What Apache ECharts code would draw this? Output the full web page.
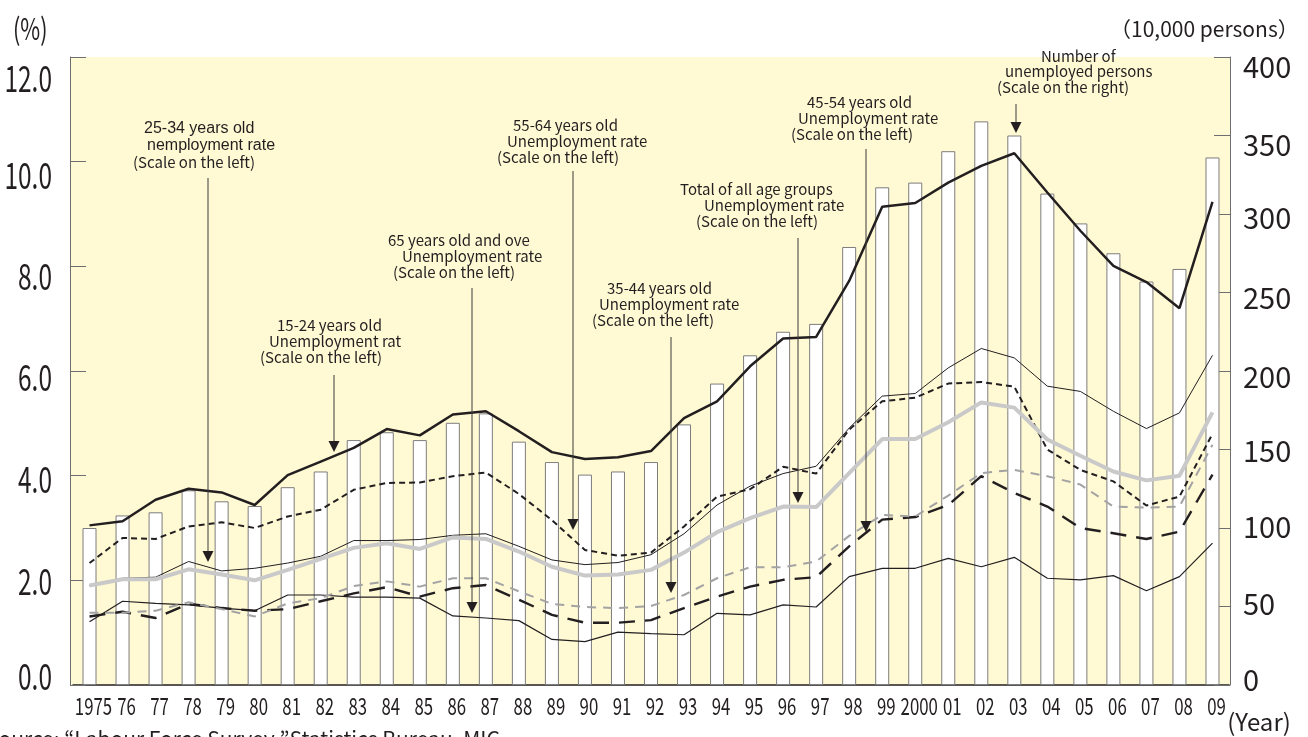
<!DOCTYPE html>
<html>
<head>
<meta charset="utf-8">
<script src="https://cdn.jsdelivr.net/npm/echarts@6/dist/echarts.min.js"></script>
<style>
  html, body { margin: 0; padding: 0; background: #fff; }
  #chart { width: 1308px; height: 737px; }
</style>
</head>
<body>
<div id="chart"></div>
<script>
// ---- data ----
const years = ['1975','76','77','78','79','80','81','82','83','84','85','86','87','88','89',
  '90','91','92','93','94','95','96','97','98','99','2000','01','02','03','04','05','06','07','08','09']

// number of unemployed persons, 10,000 persons (right scale)
const unemployed = [100,108,110,124,117,114,126,136,156,161,156,167,173,155,142,134,136,142,166,
  192,210,225,230,279,317,320,340,359,350,313,294,275,257,265,336]

// unemployment rates, % (left scale)
const rate15to24 = [3.05,3.13,3.54,3.75,3.68,3.44,4.01,4.27,4.53,4.89,4.77,5.17,5.23,4.85,4.45,4.32,4.35,4.47,5.10,
  5.42,6.09,6.62,6.65,7.72,9.14,9.21,9.60,9.92,10.16,9.41,8.68,8.01,7.70,7.20,9.23]
const rate25to34 = [1.90,2.04,2.06,2.36,2.18,2.23,2.33,2.46,2.76,2.76,2.78,2.86,2.89,2.65,2.39,2.30,2.34,2.49,2.89,
  3.44,3.80,4.04,4.18,4.91,5.52,5.57,6.06,6.43,6.25,5.71,5.61,5.23,4.90,5.20,6.30]
const rate35to44 = [1.38,1.38,1.42,1.58,1.45,1.31,1.56,1.66,1.89,1.98,1.88,2.04,2.04,1.79,1.55,1.49,1.47,1.51,1.72,
  2.04,2.25,2.25,2.36,2.85,3.25,3.22,3.62,4.05,4.11,3.99,3.83,3.41,3.39,3.41,4.59]
const rate45to54 = [1.31,1.40,1.28,1.55,1.47,1.42,1.45,1.60,1.75,1.87,1.69,1.85,1.91,1.63,1.34,1.19,1.19,1.24,1.47,
  1.69,1.88,2.01,2.06,2.65,3.16,3.21,3.44,3.99,3.67,3.41,3.00,2.90,2.79,2.93,4.02]
const rate55to64 = [2.33,2.81,2.79,3.03,3.11,3.00,3.22,3.35,3.73,3.86,3.87,3.99,4.06,3.65,3.15,2.58,2.47,2.53,3.03,
  3.60,3.74,4.17,4.04,4.88,5.42,5.49,5.76,5.79,5.70,4.50,4.11,3.89,3.43,3.60,4.80]
const rate65over = [1.21,1.60,1.56,1.53,1.47,1.42,1.72,1.72,1.68,1.68,1.66,1.32,1.28,1.23,0.87,0.83,1.01,0.98,0.96,
  1.37,1.34,1.53,1.49,2.07,2.23,2.23,2.42,2.26,2.44,2.04,2.01,2.09,1.80,2.07,2.71]
const rateTotal = [1.90,2.02,2.02,2.21,2.11,2.00,2.20,2.41,2.62,2.71,2.60,2.82,2.79,2.55,2.26,2.09,2.11,2.20,2.53,
  2.92,3.19,3.41,3.40,4.05,4.70,4.70,5.02,5.40,5.30,4.69,4.38,4.08,3.91,4.00,5.21]

const leftTicks = ['0.0','2.0','4.0','6.0','8.0','10.0','12.0']
const rightTicks = ['0','50','100','150','200','250','300','350','400']

// ---- style ----
const INK = '#231f20'
const MYRIAD = "'Noto Sans CJK JP', 'Open Sans', sans-serif"   // Source Sans latin ~ Myriad
const ARIAL = "'Liberation Sans', Arial, sans-serif"

// labels in the original sit a little off their ticks
const leftShift = [-9, 1, 4, 6, 10, 14, 21]
const rightShift = [-5, -3, -1, 1, 6, 5, 4, 9, 10]

// annotation boxes: lines of text [x, y, text], arrow [x, top, tip]
const notes = [
  { lines: [[144, 129, '25-34 years old', 'arial'], [147, 146, 'nemployment rate', 'arial'], [133, 162, '(Scale on the left)']], arrow: [208, 178, 562] },
  { lines: [[277, 325, '15-24 years old'], [269, 341, 'Unemployment rat'], [260, 357, '(Scale on the left)']], arrow: [334, 375, 452] },
  { lines: [[388, 240, '65 years old and ove'], [402, 256, 'Unemployment rate'], [393, 272, '(Scale on the left)']], arrow: [472, 288, 613] },
  { lines: [[513, 125, '55-64 years old'], [507, 141, 'Unemployment rate'], [497, 157, '(Scale on the left)']], arrow: [573, 171, 530] },
  { lines: [[607, 288, '35-44 years old'], [599, 304, 'Unemployment rate'], [592, 320, '(Scale on the left)']], arrow: [671, 337, 593] },
  { lines: [[680, 189, 'Total of all age groups'], [704, 205, 'Unemployment rate'], [696, 221, '(Scale on the left)']], arrow: [798, 238, 503] },
  { lines: [[807, 102, '45-54 years old'], [798, 118, 'Unemployment rate'], [791, 134, '(Scale on the left)']], arrow: [866, 149, 532] },
  { lines: [[1041, 56, 'Number of'], [1005, 71, 'unemployed persons'], [997, 87, '(Scale on the right)']], arrow: [1016, 104, 133] }
]

const graphics = [
  { type: 'rect', z: -10, silent: true, shape: { x: 70, y: 57, width: 1160, height: 628 }, style: { fill: '#fff9d4' } },
  { type: 'text', x: 13, y: 29, scaleX: 0.72, style: { text: '(%)', font: `30px ${MYRIAD}`, fill: INK, verticalAlign: 'middle' } },
  { type: 'text', x: 1110, y: 29, style: { text: '（10,000 persons）', font: `21px ${MYRIAD}`, fill: INK, verticalAlign: 'middle' } },
  { type: 'text', x: 1259, y: 722, style: { text: '(Year)', font: `24px ${MYRIAD}`, fill: INK, align: 'center', verticalAlign: 'middle' } },
  { type: 'text', x: -14, y: 739, style: { text: 'Source: “Labour Force Survey ”Statistics Bureau, MIC', font: `21px ${MYRIAD}`, fill: INK, verticalAlign: 'middle' } }
]
notes.forEach(n => {
  n.lines.forEach(([x, y, t, f]) => {
    graphics.push({
      type: 'text', x, y, z: 20,
      style: { text: t, fill: INK, verticalAlign: 'middle', font: f === 'arial' ? `16px ${ARIAL}` : `15px ${MYRIAD}` }
    })
  })
  const [ax, top, tip] = n.arrow
  graphics.push({ type: 'line', z: 20, shape: { x1: ax, y1: top, x2: ax, y2: tip - 8 }, style: { stroke: '#3a3a3a', lineWidth: 1 } })
  graphics.push({ type: 'polygon', z: 20, shape: { points: [[ax - 5.5, tip - 11], [ax + 5.5, tip - 11], [ax, tip]] }, style: { fill: INK } })
})

const lineSeries = (name, data, color, width, type) => ({
  name, type: 'line', data, yAxisIndex: 0, z: 5,
  symbol: 'none', smooth: false,
  lineStyle: { color, width, type },
  emphasis: { disabled: true }
})

const axisCommon = {
  splitLine: { show: false },
  axisLine: { show: true, lineStyle: { color: '#6d6e71', width: 1 } },
  axisTick: { show: true, inside: true, length: 16, lineStyle: { color: '#6d6e71' } },
  axisLabel: { show: false }   // drawn below, condensed, at the axis' own pixel positions
}

const chart = echarts.init(document.getElementById('chart'), null, { renderer: 'canvas' })
chart.setOption({
  animation: false,
  backgroundColor: '#fff',
  grid: { left: 73, right: 79, top: 57, bottom: 52 },
  graphic: graphics,
  xAxis: {
    type: 'category', data: years, boundaryGap: true,
    axisLine: { lineStyle: { color: INK, width: 1.5 } },
    axisTick: { show: false },
    axisLabel: { show: false }
  },
  yAxis: [
    { type: 'value', position: 'left', offset: 3, min: 0, max: 12, interval: 2, ...axisCommon },
    { type: 'value', position: 'right', offset: 1, min: 0, max: 400, interval: 50, ...axisCommon }
  ],
  series: [
    {
      name: 'Number of unemployed persons', type: 'bar', yAxisIndex: 1, data: unemployed,
      barWidth: 14, z: 2,
      itemStyle: { color: '#ffffff', borderColor: '#7d7d7d', borderWidth: 1 },
      emphasis: { disabled: true }
    },
    lineSeries('65 years old and over', rate65over, INK, 1.2, 'solid'),
    lineSeries('45-54 years old', rate45to54, INK, 2.4, [16, 10]),
    lineSeries('35-44 years old', rate35to44, '#a3a3a3', 2, [9, 7]),
    lineSeries('25-34 years old', rate25to34, INK, 1, 'solid'),
    lineSeries('55-64 years old', rate55to64, INK, 2, [6, 4]),
    lineSeries('Total of all age groups', rateTotal, '#c9c9c9', 4, 'solid'),
    lineSeries('15-24 years old', rate15to24, INK, 2.5, 'solid')
  ]
})

// tick labels, placed through the chart's own scales (condensed like the original)
const tickText = []
leftTicks.forEach((t, i) => {
  const y = chart.convertToPixel({ yAxisIndex: 0 }, Number(t))
  tickText.push({ type: 'text', x: 52, y: y + leftShift[i], scaleX: 0.68,
    style: { text: t, font: `36px ${MYRIAD}`, fill: INK, align: 'right', verticalAlign: 'middle' } })
})
rightTicks.forEach((t, i) => {
  const y = chart.convertToPixel({ yAxisIndex: 1 }, Number(t))
  tickText.push({ type: 'text', x: 1243, y: y + rightShift[i],
    style: { text: t, font: `29px ${MYRIAD}`, fill: INK, align: 'left', verticalAlign: 'middle' } })
})
years.forEach((t, i) => {
  const x = chart.convertToPixel({ xAxisIndex: 0 }, i)
  tickText.push({ type: 'text', x: x + 4, y: 706, scaleX: 0.7,
    style: { text: t, font: `24px ${MYRIAD}`, fill: INK, align: 'center', verticalAlign: 'middle' } })
})
chart.setOption({ graphic: graphics.concat(tickText) })
</script>
</body>
</html>
